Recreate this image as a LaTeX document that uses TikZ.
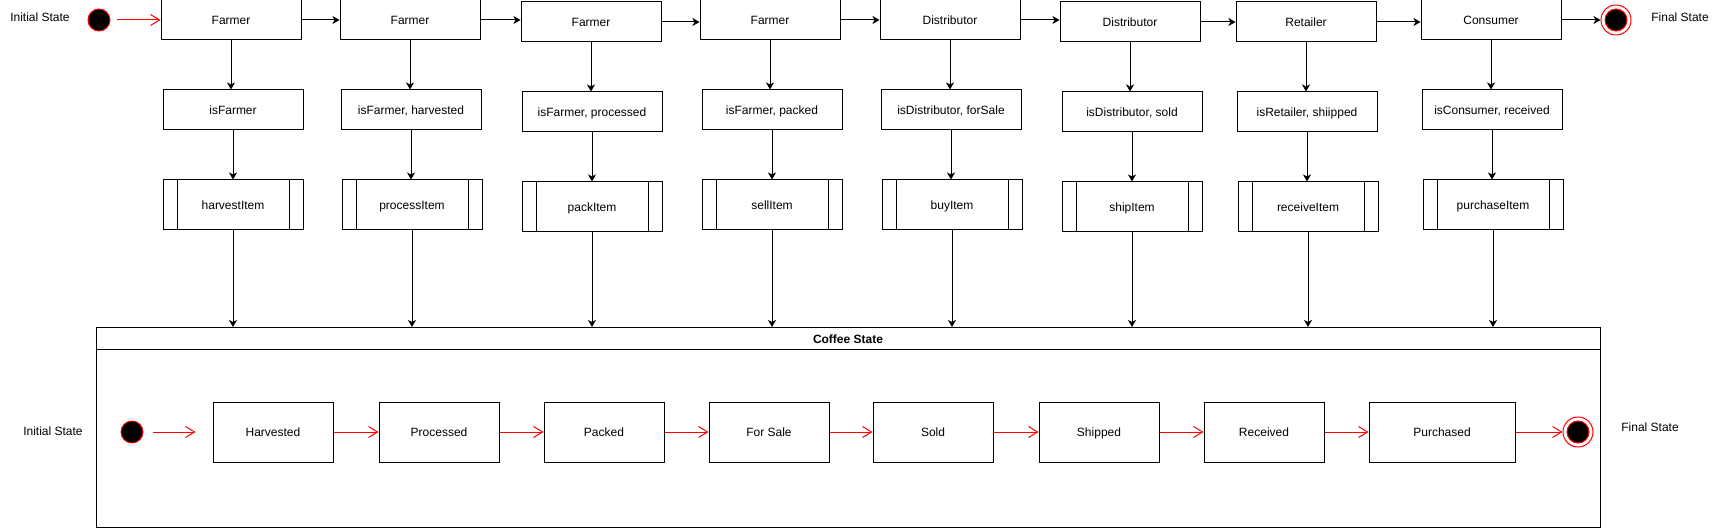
\documentclass[tikz,border=0pt]{standalone}
\usepackage{fontspec}
\setmainfont{Liberation Sans}
\usetikzlibrary{arrows.meta,calc}
\definecolor{statered}{HTML}{FF0000}
\tikzset{
  txt/.style={font=\fontsize{12}{14}\selectfont},
  statebox/.style={txt,draw,minimum width=140pt,minimum height=40pt,inner sep=0pt,text height=8.8pt,text depth=0.3pt},
  procbox/.style={statebox,minimum height=50pt,path picture={%
      \draw ([xshift=14pt]path picture bounding box.north west) -- ([xshift=14pt]path picture bounding box.south west);
      \draw ([xshift=-14pt]path picture bounding box.north east) -- ([xshift=-14pt]path picture bounding box.south east);}},
  stagebox/.style={statebox,minimum width=120pt,minimum height=60pt},
  startdot/.style={circle,fill=black,draw=statered,minimum size=22pt,inner sep=0pt},
  enddot/.style={circle,draw=statered,minimum size=30pt,inner sep=0pt,path picture={%
      \filldraw [fill=black,draw=statered] (path picture bounding box.center) circle (11pt);}},
  flow/.style={-{Stealth[length=7pt,width=8pt,inset=2pt]}},
  redflow/.style={statered,-{Straight Barb[length=9pt,width=11pt]}}
}

\begin{document}
\begin{tikzpicture}[x=1pt,y=-1pt,line width=1pt]
    \useasboundingbox (0,0) rectangle (1722,529);
    % top row: who acts
    \node [startdot] (I) at (99,20) {};
    \node [statebox] (F1) at (231,20) {Farmer};
    \node [statebox] (F2) at (410,20) {Farmer};
    \node [statebox] (F3) at (591,22) {Farmer};
    \node [statebox] (F4) at (770,20) {Farmer};
    \node [statebox] (D1) at (950,20) {Distributor};
    \node [statebox] (D2) at (1130,22) {Distributor};
    \node [statebox] (R) at (1306,22) {Retailer};
    \node [statebox] (C) at (1491,20) {Consumer};
    \node [enddot] (E) at (1616,20) {};
    % guards
    \node [statebox] (G1) at (233,110) {isFarmer};
    \node [statebox] (G2) at (411,110) {isFarmer, harvested};
    \node [statebox] (G3) at (592,112) {isFarmer, processed};
    \node [statebox] (G4) at (772,110) {isFarmer, packed};
    \node [statebox] (G5) at (951,110) {isDistributor, forSale};
    \node [statebox] (G6) at (1132,112) {isDistributor, sold};
    \node [statebox] (G7) at (1307,112) {isRetailer, shiipped};
    \node [statebox] (G8) at (1492,110) {isConsumer, received};
    % functions
    \node [procbox] (P1) at (233,205) {harvestItem};
    \node [procbox] (P2) at (412,205) {processItem};
    \node [procbox] (P3) at (592,207) {packItem};
    \node [procbox] (P4) at (772,205) {sellItem};
    \node [procbox] (P5) at (952,205) {buyItem};
    \node [procbox] (P6) at (1132,207) {shipItem};
    \node [procbox] (P7) at (1308,207) {receiveItem};
    \node [procbox] (P8) at (1493,205) {purchaseItem};
    % coffee state box
    \node [draw,minimum width=1504pt,minimum height=200pt,inner sep=0pt,anchor=north west] (CS) at (96,327) {};
    \draw ([yshift=-23pt]CS.north west) -- ([yshift=-23pt]CS.north east);
    \node [txt,font=\fontsize{12}{14}\selectfont\bfseries] (T) at (848,339) {Coffee State};
    \node [startdot] (i) at (132,432) {};
    \node [stagebox] (S1) at (273,432) {Harvested};
    \node [stagebox] (S2) at (439,432) {Processed};
    \node [stagebox] (S3) at (604,432) {Packed};
    \node [stagebox] (S4) at (769,432) {For Sale};
    \node [stagebox] (S5) at (933,432) {Sold};
    \node [stagebox] (S6) at (1099,432) {Shipped};
    \node [stagebox] (S7) at (1264,432) {Received};
    \node [stagebox,minimum width=146pt] (S8) at (1442,432) {Purchased};
    \node [enddot] (e) at (1578,432) {};
    % draw figure
    \draw [redflow] ([xshift=6pt]I.east) -- (F1.west);
    \draw [flow] (F1.east) -- (F1.east -| F2.west);
    \draw [flow] (F2.east) -- (F2.east -| F3.west);
    \draw [flow] (F3.east) -- (F3.east -| F4.west);
    \draw [flow] (F4.east) -- (F4.east -| D1.west);
    \draw [flow] (D1.east) -- (D1.east -| D2.west);
    \draw [flow] (D2.east) -- (D2.east -| R.west);
    \draw [flow] (R.east) -- (R.east -| C.west);
    \draw [flow] (C.east) -- (E.west);
    \draw [flow] (F1.south) -- (F1.south |- G1.north);
    \draw [flow] (F2.south) -- (F2.south |- G2.north);
    \draw [flow] (F3.south) -- (F3.south |- G3.north);
    \draw [flow] (F4.south) -- (F4.south |- G4.north);
    \draw [flow] (D1.south) -- (D1.south |- G5.north);
    \draw [flow] (D2.south) -- (D2.south |- G6.north);
    \draw [flow] (R.south) -- (R.south |- G7.north);
    \draw [flow] (C.south) -- (C.south |- G8.north);
    \draw [flow] (G1.south) -- (G1.south |- P1.north);
    \draw [flow] (G2.south) -- (G2.south |- P2.north);
    \draw [flow] (G3.south) -- (G3.south |- P3.north);
    \draw [flow] (G4.south) -- (G4.south |- P4.north);
    \draw [flow] (G5.south) -- (G5.south |- P5.north);
    \draw [flow] (G6.south) -- (G6.south |- P6.north);
    \draw [flow] (G7.south) -- (G7.south |- P7.north);
    \draw [flow] (G8.south) -- (G8.south |- P8.north);
    \draw [flow] (P1.south) -- (P1.south |- CS.north);
    \draw [flow] (P2.south) -- (P2.south |- CS.north);
    \draw [flow] (P3.south) -- (P3.south |- CS.north);
    \draw [flow] (P4.south) -- (P4.south |- CS.north);
    \draw [flow] (P5.south) -- (P5.south |- CS.north);
    \draw [flow] (P6.south) -- (P6.south |- CS.north);
    \draw [flow] (P7.south) -- (P7.south |- CS.north);
    \draw [flow] (P8.south) -- (P8.south |- CS.north);
    \draw [redflow] ([xshift=9pt]i.east) -- ([xshift=-17pt]S1.west);
    \draw [redflow] (S1.east) -- (S2.west);
    \draw [redflow] (S2.east) -- (S3.west);
    \draw [redflow] (S3.east) -- (S4.west);
    \draw [redflow] (S4.east) -- (S5.west);
    \draw [redflow] (S5.east) -- (S6.west);
    \draw [redflow] (S6.east) -- (S7.west);
    \draw [redflow] (S7.east) -- (S8.west);
    \draw [redflow] (S8.east) -- (e.west);
    % add labels
    \node [txt] (LI) at (40,17) {Initial State};
    \node [txt] (LF) at (1680,17) {Final State};
    \node [txt] (li) at (53,431) {Initial State};
    \node [txt] (lf) at (1650,427) {Final State};
\end{tikzpicture}
\end{document}
